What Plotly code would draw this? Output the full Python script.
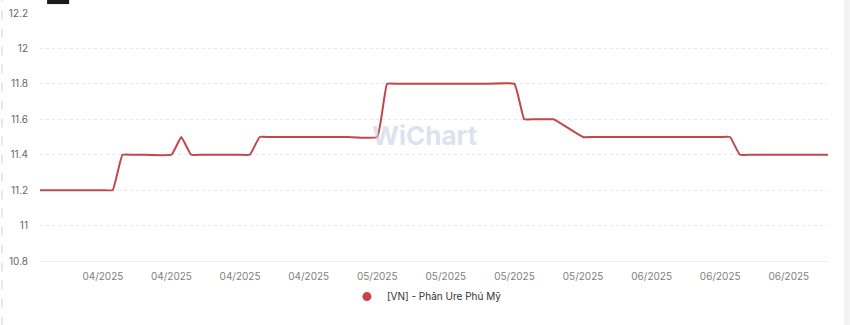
import pandas as pd
import plotly.graph_objects as go

# Business days shown in the chart
dates = pd.bdate_range("2025-03-31", "2025-06-20").strftime("%Y-%m-%d").tolist()

# Price values (one per business day)
values = [
    11.2, 11.2, 11.2, 11.2, 11.2,   # Mar 31 - Apr 4
    11.2, 11.2, 11.4, 11.4, 11.4,   # Apr 7 - Apr 11
    11.4, 11.5, 11.4, 11.4, 11.4,   # Apr 14 - Apr 18
    11.4, 11.4, 11.5, 11.5, 11.5,   # Apr 21 - Apr 25
    11.5, 11.5, 11.5, 11.5, 11.5,   # Apr 28 - May 2
    11.5, 11.8, 11.8, 11.8, 11.8,   # May 5 - May 9
    11.8, 11.8, 11.8, 11.8, 11.8,   # May 12 - May 16
    11.8, 11.6, 11.6, 11.6, 11.6,   # May 19 - May 23
    11.5, 11.5, 11.5, 11.5, 11.5,   # May 26 - May 30
    11.5, 11.5, 11.5, 11.5, 11.5,   # Jun 2 - Jun 6
    11.5, 11.5, 11.4, 11.4, 11.4,   # Jun 9 - Jun 13
    11.4, 11.4, 11.4, 11.4, 11.4,   # Jun 16 - Jun 20
]

series_name = "[VN] - Phân Ure Phú Mỹ"
tick_dates = ["2025-04-07", "2025-04-14", "2025-04-21", "2025-04-28", "2025-05-05",
              "2025-05-12", "2025-05-19", "2025-05-26", "2025-06-02", "2025-06-09",
              "2025-06-16"]
tick_labels = ["04/2025", "04/2025", "04/2025", "04/2025", "05/2025", "05/2025",
               "05/2025", "05/2025", "06/2025", "06/2025", "06/2025"]
y_ticks = [10.8, 11, 11.2, 11.4, 11.6, 11.8, 12, 12.2]
y_labels = ["10.8", "11", "11.2", "11.4", "11.6", "11.8", "12", "12.2"]

fig = go.Figure()
fig.add_trace(go.Scatter(
    x=dates, y=values, name=series_name, mode="lines",
    line=dict(color="#c0474a", width=2, shape="spline", smoothing=0.3),
    showlegend=False,
))
# legend entry with a round marker
fig.add_trace(go.Scatter(
    x=[None], y=[None], name=series_name, mode="markers",
    marker=dict(color="#c8414b", size=9, symbol="circle"),
))

fig.update_layout(
    width=850, height=325,
    margin=dict(l=40, r=22, t=13, b=64, autoexpand=False),
    paper_bgcolor="white", plot_bgcolor="white",
    font=dict(family="Inter, Noto Sans, sans-serif", size=10, color="#666"),
    xaxis=dict(
        type="date", automargin=False,
        range=["2025-03-31 14:00", "2025-06-20"],
        tickvals=tick_dates, ticktext=tick_labels,
        showgrid=False, zeroline=False,
        showline=True, linecolor="#f0f0f0", linewidth=1,
        ticks="", ticklabelstandoff=6,
        tickfont=dict(size=10, color="#808080"),
    ),
    yaxis=dict(
        range=[10.8, 12.2], automargin=False,
        tickvals=y_ticks, ticktext=y_labels,
        showgrid=True, gridcolor="#e6e6e6", griddash="dot", gridwidth=1,
        zeroline=False, showline=False, ticks="",
        ticklabelstandoff=11,
        tickfont=dict(size=10, color="#666"),
    ),
    legend=dict(orientation="h", x=0.491, xanchor="center", y=-0.085, yanchor="top",
                font=dict(size=10, color="#333"), itemwidth=30),
    showlegend=True,
)

fig.add_annotation(
    text="<b>WiChart</b>", xref="paper", yref="paper", x=0.489, y=0.505,
    showarrow=False, font=dict(size=26, color="rgba(200,206,228,0.6)", family="Inter, sans-serif"),
)

# dashed container border on the left
fig.add_shape(type="line", xref="paper", yref="paper",
              x0=-0.0482, x1=-0.0482, y0=-0.26, y1=1.06,
              line=dict(color="#cfcfcf", width=1, dash="dash"))
# light strip on the right edge
fig.add_shape(type="rect", xref="paper", yref="paper",
              x0=1.0203, x1=1.03, y0=-0.26, y1=1.06,
              line=dict(width=0), fillcolor="#f3f3f3")
# top toolbar remnant
fig.add_shape(type="rect", xref="paper", yref="paper",
              x0=0.009, x1=0.037, y0=1.036, y1=1.06,
              line=dict(width=0), fillcolor="#1a1a1a")

fig.write_html("out.html")
